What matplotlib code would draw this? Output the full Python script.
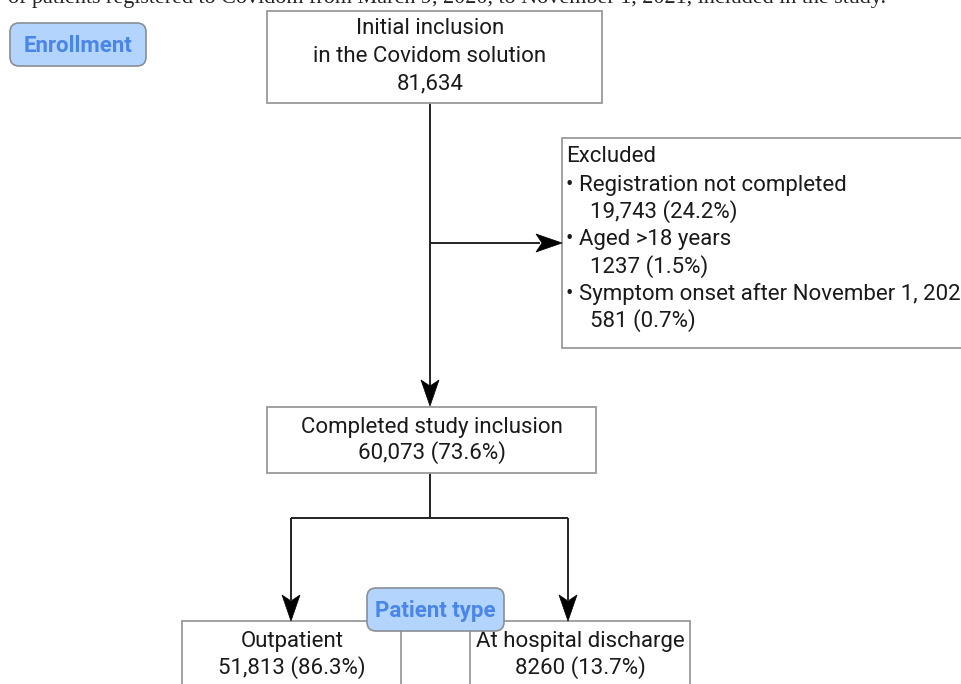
import matplotlib
matplotlib.use("Agg")
import matplotlib.pyplot as plt
from matplotlib.patches import Rectangle, FancyBboxPatch, Polygon

plt.rcParams['font.family'] = ['Roboto', 'DejaVu Sans']

# ---- data ----
initial_label = ["Initial inclusion", "in the Covidom solution"]
initial_n = "81,634"
excluded_title = "Excluded"
excluded_reasons = ["Registration not completed", "Aged >18 years", "Symptom onset after November 1, 2021"]
excluded_counts = ["19,743 (24.2%)", "1237 (1.5%)", "581 (0.7%)"]
completed_label = "Completed study inclusion"
completed_count = "60,073 (73.6%)"
patient_types = ["Outpatient", "At hospital discharge"]
patient_counts = ["51,813 (86.3%)", "8260 (13.7%)"]
stage_labels = ["Enrollment", "Patient type"]
caption = "of patients registered to Covidom from March 9, 2020, to November 1, 2021, included in the study."

W, H = 962, 684
fig = plt.figure(figsize=(W / 100, H / 100), dpi=100)
ax = fig.add_axes([0, 0, 1, 1])
ax.set_xlim(0, W)
ax.set_ylim(H, 0)
ax.axis('off')

EDGE = '#9a9a9a'
FS = 16

def box(x0, y0, x1, y1):
    ax.add_patch(Rectangle((x0, y0), x1 - x0, y1 - y0, facecolor='white',
                           edgecolor=EDGE, lw=1.3, zorder=2))

def line(xs, ys):
    ax.plot(xs, ys, color='#222222', lw=1.4, zorder=1, solid_capstyle='butt')

def arrowhead(x, y, direction):
    L, Wd = 26, 9
    if direction == 'down':
        pts = [(x, y), (x - Wd, y - L), (x, y - L + 6), (x + Wd, y - L)]
    else:
        pts = [(x, y), (x - L, y - Wd), (x - L + 6, y), (x - L, y + Wd)]
    ax.add_patch(Polygon(pts, closed=True, facecolor='black', edgecolor='black',
                         lw=0.5, zorder=4))

def label(x0, y0, x1, y1, text):
    ax.add_patch(FancyBboxPatch((x0, y0), x1 - x0, y1 - y0,
                                boxstyle="round,pad=0,rounding_size=9",
                                facecolor='#b3d4fc', edgecolor='#8a8f96',
                                lw=1.2, zorder=5))
    ax.text((x0 + x1) / 2, (y0 + y1) / 2 + 1, text, ha='center', va='center',
            fontsize=16, fontweight='bold', color='#4a86e8', zorder=6)

# caption (cut off at top, as in the source)
ax.text(8, 2.5, caption, ha='left', va='baseline', fontsize=15.9,
        family=['Liberation Serif'], color='#222222', zorder=1)

# connectors
line([430, 430], [103, 390])
arrowhead(430, 406, 'down')
line([430, 540], [243, 243])
arrowhead(562, 243, 'right')
line([430, 430], [473, 518])
line([291, 568], [518, 518])
line([291, 291], [518, 600])
line([568, 568], [518, 600])
arrowhead(291, 621, 'down')
arrowhead(568, 621, 'down')

# initial box
box(267, 11, 602, 103)
for yy, t in zip([29, 57, 84], initial_label + [initial_n]):
    ax.text(430, yy, t, ha='center', va='center', fontsize=FS, color='#1a1a1a', zorder=3)

# excluded box
box(562, 138, 975, 348)
ax.text(566, 157, excluded_title, ha='left', va='center', fontsize=FS, color='#1a1a1a', zorder=3)
ys = [185, 240, 294]
for y, r, c in zip(ys, excluded_reasons, excluded_counts):
    ax.text(566, y, "\u2022 " + r, ha='left', va='center', fontsize=FS, color='#1a1a1a', zorder=3)
    ax.text(590, y + 27, c, ha='left', va='center', fontsize=FS, color='#1a1a1a', zorder=3)

# completed box
box(267, 407, 596, 473)
ax.text(432, 427, completed_label, ha='center', va='center', fontsize=FS, color='#1a1a1a', zorder=3)
ax.text(432, 453, completed_count, ha='center', va='center', fontsize=FS, color='#1a1a1a', zorder=3)

# bottom boxes
box(182, 621, 401, 700)
box(470, 621, 690, 700)
for cx, t, c in zip([292, 580], patient_types, patient_counts):
    ax.text(cx, 641, t, ha='center', va='center', fontsize=FS, color='#1a1a1a', zorder=3)
    ax.text(cx, 668, c, ha='center', va='center', fontsize=FS, color='#1a1a1a', zorder=3)

# stage labels
label(10, 23, 146, 66, stage_labels[0])
label(367, 588, 504, 631, stage_labels[1])

fig.savefig("out.png", dpi=100)
